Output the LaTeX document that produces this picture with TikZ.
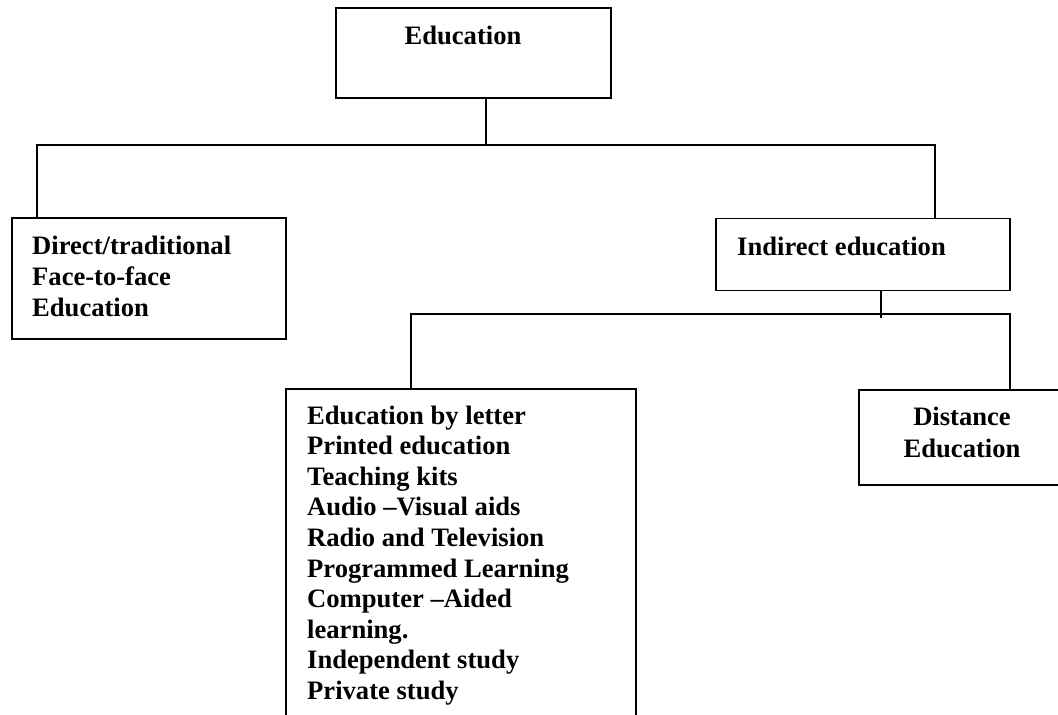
\documentclass[tikz,border=0pt]{standalone}
\usepackage{fontspec}
\setmainfont{Liberation Serif}
\begin{document}
\begin{tikzpicture}[x=1pt,y=-1pt,
  box/.style={draw=black, line width=1.6pt, inner sep=0pt, fill=none},
  conn/.style={draw=black, line width=1.6pt},
  lbl/.style={font=\fontsize{26.6}{30.6}\selectfont\bfseries, inner sep=0pt, anchor=base west},
  clbl/.style={font=\fontsize{26.6}{30.6}\selectfont\bfseries, inner sep=0pt, anchor=base}]
\useasboundingbox (0,0) rectangle (1058,715);
\clip (0,0) rectangle (1058,715);
% boxes
\node[box, minimum width=275pt, minimum height=90pt] (edu) at (473.5,53) {};
\node[box, minimum width=274pt, minimum height=121pt] (dir) at (149,278.5) {};
\node[box, minimum width=294pt, minimum height=72pt] (ind) at (863,254.5) {};
\node[box, minimum width=350pt, minimum height=360pt] (lst) at (461,569) {};
\node[box, minimum width=230pt, minimum height=95pt] (dist) at (974,437.5) {};
% texts
\node[clbl] (tedu) at (463,44) {Education};
\node[lbl] (td1) at (32,254) {Direct/traditional};
\node[lbl] (td2) at (32,285) {Face-to-face};
\node[lbl] (td3) at (32,316) {Education};
\node[lbl] (tind) at (737,255) {Indirect education};
\node[lbl] (l1) at (307,424) {Education by letter};
\node[lbl] (l2) at (307,454.6) {Printed education};
\node[lbl] (l3) at (307,485.2) {Teaching kits};
\node[lbl] (l4) at (307,515.8) {Audio --Visual aids};
\node[lbl] (l5) at (307,546.4) {Radio and Television};
\node[lbl] (l6) at (307,577) {Programmed Learning};
\node[lbl] (l7) at (307,607.6) {Computer --Aided};
\node[lbl] (l8) at (307,638.2) {learning.};
\node[lbl] (l9) at (307,668.8) {Independent study};
\node[lbl] (l10) at (307,699.4) {Private study};
\node[clbl] (tdist1) at (962,425) {Distance};
\node[clbl] (tdist2) at (962,457) {Education};
% connectors
\coordinate (j1) at (486,145);
\coordinate (tl) at (37,145);
\coordinate (tr) at (935,145);
\draw[conn] (edu.south -| j1) -- (j1);
\draw[conn] (tl |- dir.north) -- (tl) -- (tr) -- (tr |- ind.north);
\coordinate (j2) at (881,318);
\coordinate (bl) at (411,314);
\coordinate (br) at (1010,314);
\draw[conn] (ind.south -| j2) -- (j2);
\draw[conn] (bl |- lst.north) -- (bl) -- (br) -- (br |- dist.north);
\end{tikzpicture}
\end{document}
